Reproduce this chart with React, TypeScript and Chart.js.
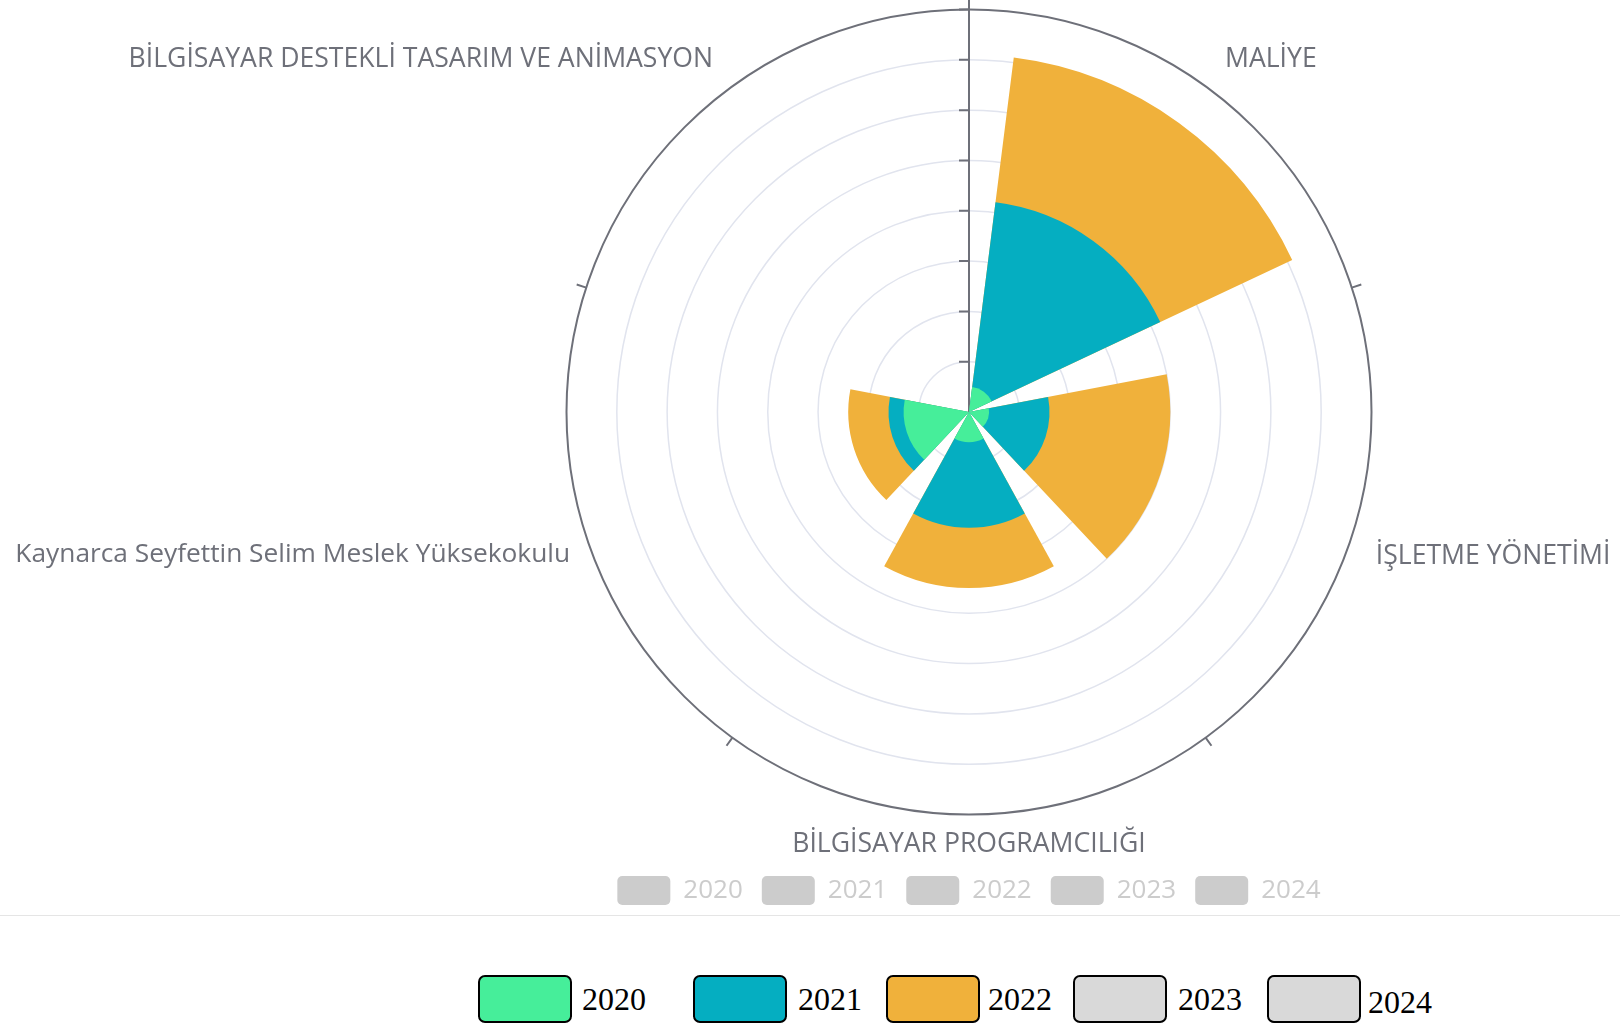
import React, { useEffect, useRef } from 'react';
import { Chart, registerables } from 'chart.js';

Chart.register(...registerables);

// ---------- data ----------
const CATEGORIES = [
  'MALİYE',
  'İŞLETME YÖNETİMİ',
  'BİLGİSAYAR PROGRAMCILIĞI',
  'Kaynarca Seyfettin Selim Meslek Yüksekokulu',
  'BİLGİSAYAR DESTEKLİ TASARIM VE ANİMASYON',
];
const YEARS = ['2020', '2021', '2022', '2023', '2024'];
const VALUES_2020 = [5, 4, 6, 13, 0];
const VALUES_2021 = [37, 12, 17, 3, 0];
const VALUES_2022 = [29, 24, 12, 8, 0];
const VALUES_2023 = [0, 0, 0, 0, 0];
const VALUES_2024 = [0, 0, 0, 0, 0];
const RADIUS_MAX = 80;
const RADIUS_STEP = 10;

// ---------- style ----------
const SERIES = [VALUES_2020, VALUES_2021, VALUES_2022, VALUES_2023, VALUES_2024];
const SERIES_COLORS = ['#46EE9A', '#05AEC1', '#F0B13B', '#D9D9D9', '#D9D9D9'];
const AXIS_COLOR = '#6E7079';
const GRID_COLOR = '#E1E4EE';
const LEGEND_GREY = '#CCCCCC';
const BAR_FRACTION = 0.8;
const TICK_LEN = 10;
// per point-label slot (gap slots are empty strings)
const LABEL_FONT_SIZE = [26.6, 26.6, 26.6, 26.6, 26.6, 26.6, 26.6, 26.3, 26.6, 26.6];
const LABEL_PADDING = [54.5, 33, 0, 25.2, 0, 29.5, 0, 17, 0, 33];
const LABEL_LINE_HEIGHT = ['0px', '0px', '31px', '24px', '31px', '0px', '31px', '26px', '31px', '0px'];
const CANVAS_W = 2100;
const CANVAS_H = 972;
const CANVAS_X = -81;
const CANVAS_Y = -57;
const HTML_BOX_X = [478, 693, 886, 1073, 1267];
const HTML_TEXT_X = [582, 798, 988, 1178, 1368];
const HTML_TEXT_Y = [983, 983, 983, 983, 986];

// ---------- slots: gap / bar per category ----------
const sectorAngle = 360 / CATEGORIES.length;
const barAngle = sectorAngle * BAR_FRACTION;
const gapAngle = sectorAngle - barAngle;
const slotAngles: number[] = [];
const slotLabels: string[] = [];
const slotCategory: number[] = [];
CATEGORIES.forEach((c, i) => {
  slotAngles.push(i === 0 ? gapAngle / 2 : gapAngle);
  slotLabels.push('');
  slotCategory.push(-1);
  slotAngles.push(barAngle);
  slotLabels.push(c);
  slotCategory.push(i);
});

const datasets = SERIES.map((vals, k) => ({
  label: YEARS[k],
  data: slotCategory.map((ci) => {
    if (ci < 0 || !vals[ci]) return 0;
    let sum = 0;
    for (let j = 0; j <= k; j++) sum += SERIES[j][ci];
    return sum;
  }),
  backgroundColor: SERIES_COLORS[k],
  borderWidth: 0,
  angle: (ctx: any) => slotAngles[ctx.dataIndex],
}));

const axisTicksPlugin = {
  id: 'axisTicks',
  beforeDatasetsDraw(chart: any) {
    const s = chart.scales.r;
    const ctx = chart.ctx;
    ctx.save();
    ctx.strokeStyle = AXIS_COLOR;
    ctx.lineWidth = 2;
    ctx.beginPath();
    for (let i = 0; i < CATEGORIES.length; i++) {
      const a = s.getPointPosition(i * 2, s.drawingArea);
      const b = s.getPointPosition(i * 2, s.drawingArea + TICK_LEN);
      ctx.moveTo(a.x, a.y);
      ctx.lineTo(b.x, b.y);
    }
    s.ticks.forEach((t: any) => {
      if (t.value <= 0) return;
      const d = s.getDistanceFromCenterForValue(t.value);
      ctx.moveTo(s.xCenter - TICK_LEN, s.yCenter - d);
      ctx.lineTo(s.xCenter, s.yCenter - d);
    });
    ctx.stroke();
    ctx.restore();
  },
};

export default function App() {
  const ref = useRef<HTMLCanvasElement>(null);

  useEffect(() => {
    const chart = new Chart(ref.current as HTMLCanvasElement, {
      type: 'polarArea',
      data: { labels: slotLabels, datasets: datasets as any },
      options: {
        responsive: false,
        maintainAspectRatio: false,
        animation: false,
        devicePixelRatio: 1,
        layout: { padding: 0 },
        scales: {
          r: {
            min: 0,
            max: RADIUS_MAX,
            startAngle: 0,
            ticks: { display: false, stepSize: RADIUS_STEP },
            grid: {
              circular: true,
              color: (c: any) => (c.tick && c.tick.value === RADIUS_MAX ? AXIS_COLOR : GRID_COLOR),
              lineWidth: (c: any) => (c.tick && c.tick.value === RADIUS_MAX ? 2 : 1.5),
            },
            angleLines: {
              display: true,
              color: (c: any) => (c.index === 0 ? AXIS_COLOR : 'rgba(0,0,0,0)'),
              lineWidth: 2,
            },
            pointLabels: {
              display: true,
              centerPointLabels: false,
              color: AXIS_COLOR,
              padding: (c: any) => LABEL_PADDING[c.index],
              font: (c: any) => ({
                family: '"Open Sans", sans-serif',
                size: LABEL_FONT_SIZE[c.index],
                lineHeight: LABEL_LINE_HEIGHT[c.index],
              }),
            },
          } as any,
        },
        plugins: {
          tooltip: { enabled: false },
          legend: {
            display: true,
            position: 'bottom',
            onClick: () => {},
            labels: {
              boxWidth: 53,
              boxHeight: 29,
              padding: 19,
              color: LEGEND_GREY,
              font: { family: '"Open Sans", sans-serif', size: 26 },
              generateLabels: () =>
                YEARS.map((y, k) => ({
                  text: y,
                  fillStyle: LEGEND_GREY,
                  strokeStyle: LEGEND_GREY,
                  lineWidth: 0,
                  hidden: false,
                  fontColor: LEGEND_GREY,
                  borderRadius: 5,
                  datasetIndex: k,
                })) as any,
            },
          },
        },
      } as any,
      plugins: [axisTicksPlugin as any],
    });
    return () => chart.destroy();
  }, []);

  return (
    <div
      style={{
        position: 'fixed',
        left: 0,
        top: 0,
        width: 1620,
        height: 1024,
        overflow: 'hidden',
        background: '#fff',
      }}
    >
      <canvas
        ref={ref}
        width={CANVAS_W}
        height={CANVAS_H}
        style={{ position: 'absolute', left: CANVAS_X, top: CANVAS_Y, width: CANVAS_W, height: CANVAS_H }}
      />
      <div style={{ position: 'absolute', left: 0, top: 915, width: 1620, height: 1, background: '#E5E5E5' }} />
      {YEARS.map((y, k) => (
        <React.Fragment key={y}>
          <div
            style={{
              position: 'absolute',
              left: HTML_BOX_X[k],
              top: 975,
              width: 94,
              height: 48,
              boxSizing: 'border-box',
              border: '2px solid #000',
              borderRadius: 7,
              background: SERIES_COLORS[k],
            }}
          />
          <div
            style={{
              position: 'absolute',
              left: HTML_TEXT_X[k],
              top: HTML_TEXT_Y[k],
              fontFamily: '"Liberation Serif", "Times New Roman", serif',
              fontSize: 32,
              lineHeight: '32px',
              color: '#000',
              whiteSpace: 'nowrap',
            }}
          >
            {y}
          </div>
        </React.Fragment>
      ))}
    </div>
  );
}
